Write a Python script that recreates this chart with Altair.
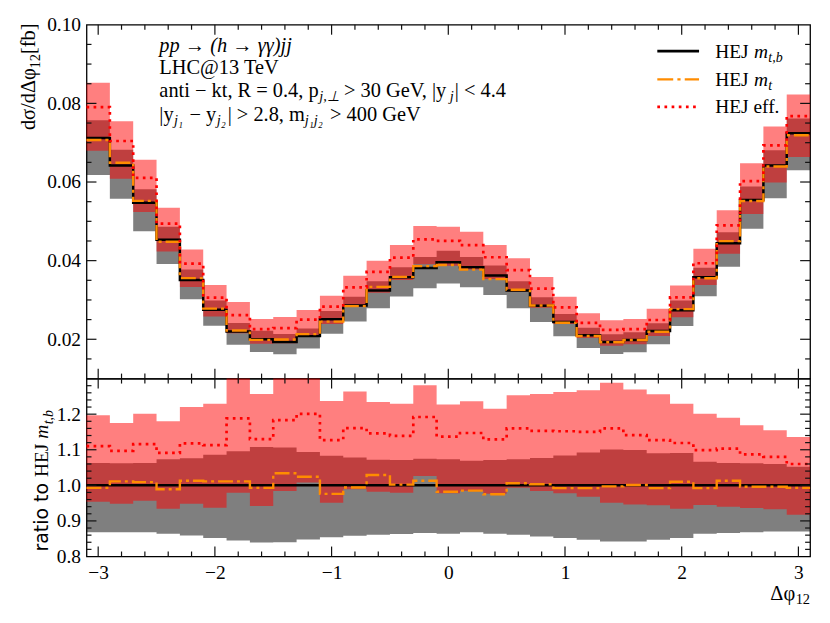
import altair as alt
import pandas as pd

# ---------------- data ----------------
edges = [-3.1, -2.9, -2.7, -2.5, -2.3, -2.1, -1.9, -1.7, -1.5, -1.3, -1.1, -0.9,
         -0.7, -0.5, -0.3, -0.1, 0.1, 0.3, 0.5, 0.7, 0.9, 1.1, 1.3, 1.5, 1.7,
         1.9, 2.1, 2.3, 2.5, 2.7, 2.9, 3.1]

# HEJ m_{t,b} central value [fb]
hej_mtb = [0.0712, 0.0642, 0.0547, 0.0453, 0.0351, 0.0275, 0.0220, 0.0200,
           0.0193, 0.0208, 0.0251, 0.0286, 0.0324, 0.0358, 0.0381, 0.0396,
           0.0383, 0.0362, 0.0324, 0.0285, 0.0244, 0.0210, 0.0193, 0.0198,
           0.0221, 0.0274, 0.0358, 0.0444, 0.0554, 0.0642, 0.0724]

# ratios to HEJ m_{t,b}
ratio_mt = [0.993, 1.011, 1.009, 0.989, 1.013, 1.011, 1.011, 0.993, 1.034, 1.024,
            0.976, 0.994, 1.029, 1.002, 1.013, 0.982, 0.985, 0.975, 1.006, 1.003,
            0.992, 0.992, 0.997, 1.001, 0.992, 1.010, 0.992, 1.013, 0.996, 0.996,
            0.993]
ratio_eff = [1.110, 1.097, 1.116, 1.091, 1.118, 1.113, 1.188, 1.130, 1.183, 1.201,
             1.127, 1.161, 1.146, 1.139, 1.192, 1.137, 1.147, 1.129, 1.160, 1.153,
             1.152, 1.150, 1.160, 1.141, 1.127, 1.119, 1.099, 1.103, 1.087, 1.080,
             1.060]
mtb_lo = [0.868, 0.868, 0.868, 0.864, 0.859, 0.852, 0.845, 0.839, 0.840, 0.848,
          0.854, 0.858, 0.861, 0.863, 0.866, 0.864, 0.868, 0.864, 0.861, 0.856,
          0.852, 0.847, 0.842, 0.842, 0.847, 0.852, 0.864, 0.866, 0.868, 0.870,
          0.870]
mtb_hi = [1.063, 1.062, 1.063, 1.073, 1.076, 1.086, 1.096, 1.108, 1.106, 1.094,
          1.083, 1.078, 1.072, 1.071, 1.075, 1.073, 1.069, 1.071, 1.073, 1.077,
          1.084, 1.092, 1.101, 1.099, 1.090, 1.091, 1.066, 1.063, 1.062, 1.060,
          1.052]
eff_lo = [0.954, 0.948, 0.957, 0.934, 0.948, 0.937, 0.979, 0.942, 0.984, 1.008,
          0.951, 0.989, 0.982, 0.979, 1.026, 0.978, 0.985, 0.976, 0.993, 0.984,
          0.978, 0.968, 0.951, 0.946, 0.944, 0.934, 0.945, 0.940, 0.936, 0.933,
          0.917]
eff_hi = [1.197, 1.175, 1.201, 1.180, 1.220, 1.229, 1.340, 1.257, 1.330, 1.320,
          1.237, 1.264, 1.234, 1.229, 1.281, 1.227, 1.236, 1.215, 1.253, 1.257,
          1.262, 1.267, 1.288, 1.269, 1.256, 1.229, 1.201, 1.190, 1.169, 1.155,
          1.136]

x_major = [-3, -2, -1, 0, 1, 2, 3]
x_minor = [-2.8, -2.6, -2.4, -2.2, -1.8, -1.6, -1.4, -1.2, -0.8, -0.6, -0.4, -0.2,
           0.2, 0.4, 0.6, 0.8, 1.2, 1.4, 1.6, 1.8, 2.2, 2.4, 2.6, 2.8]
y_top_labels = [0.02, 0.04, 0.06, 0.08, 0.10]
y_top_major = [0.02, 0.04, 0.06, 0.08]
y_top_minor = [0.015, 0.025, 0.03, 0.035, 0.045, 0.05, 0.055, 0.065, 0.07,
               0.075, 0.085, 0.09, 0.095]
y_bot_labels = [0.8, 0.9, 1.0, 1.1, 1.2]
y_bot_major = [0.9, 1.0, 1.1, 1.2]
y_bot_minor = [0.82, 0.84, 0.86, 0.88, 0.92, 0.94, 0.96, 0.98, 1.02, 1.04, 1.06,
               1.08, 1.12, 1.14, 1.16, 1.18, 1.22, 1.24, 1.26, 1.28]

# ---------------- tables ----------------
def step(v):
    v = list(v)
    return v + [v[-1]]

def mul(a, b):
    return [p * q for p, q in zip(a, b)]

top_df = pd.DataFrame({
    "x": edges,
    "c": step(hej_mtb),
    "mt": step(mul(hej_mtb, ratio_mt)),
    "eff": step(mul(hej_mtb, ratio_eff)),
    "g_lo": step(mul(hej_mtb, mtb_lo)),
    "g_hi": step(mul(hej_mtb, mtb_hi)),
    "r_lo": step(mul(hej_mtb, eff_lo)),
    "r_hi": step(mul(hej_mtb, eff_hi)),
})
bot_df = pd.DataFrame({
    "x": edges,
    "c": step([c / c for c in hej_mtb]),
    "mt": step(ratio_mt),
    "eff": step(ratio_eff),
    "g_lo": step(mtb_lo),
    "g_hi": step(mtb_hi),
    "r_lo": step(eff_lo),
    "r_hi": step(eff_hi),
})

# ---------------- style ----------------
W, HT, HB = 728, 356, 179
SERIF = "Liberation Serif"
SANS = "DejaVu Sans"
FS = 20.5
SUB = 14.5
RED = "#ff0000"
ORANGE = "#ff8c00"
TICK = "#111111"

xs = alt.Scale(domain=[-3.1, 3.1], nice=False, zero=False)
ys_top = alt.Scale(domain=[0.01, 0.10], nice=False, zero=False)
ys_bot = alt.Scale(domain=[0.8, 1.3], nice=False, zero=False, clamp=True)

x_axis = alt.Axis(values=x_major, format="d", ticks=False, tickSize=0, domain=False,
                  grid=False, labelFont=SERIF, labelFontSize=19.5, labelColor="black",
                  labelPadding=7, title=None)
y_axis_top = alt.Axis(values=y_top_labels, format=".2f", ticks=False, tickSize=0,
                      domain=False, grid=False, labelFont=SERIF, labelFontSize=19.5,
                      labelColor="black", labelPadding=6, title=None)
y_axis_bot = alt.Axis(values=y_bot_labels, format=".1f", ticks=False, tickSize=0,
                      domain=False, grid=False, labelFont=SERIF, labelFontSize=19.5,
                      labelColor="black", labelPadding=6, title=None)

DUMMY = pd.DataFrame({"a": [0]})


def txt(s, x, y, size=FS, style="normal", font=SERIF, angle=None, align="left",
        baseline="alphabetic"):
    kw = dict(text=s, font=font, fontSize=size, fontStyle=style, align=align,
              baseline=baseline, color="black")
    if angle is not None:
        kw["angle"] = angle
    return alt.Chart(DUMMY).mark_text(**kw).encode(x=alt.value(x), y=alt.value(y))


def curves(df, ys, xaxis, yaxis):
    X = alt.X("x:Q", scale=xs, axis=xaxis)
    gray = alt.Chart(df).mark_area(interpolate="step-after", color="black",
                                   opacity=0.5).encode(
        x=X, y=alt.Y("g_lo:Q", scale=ys, axis=yaxis), y2="g_hi:Q")
    red = alt.Chart(df).mark_area(interpolate="step-after", color=RED,
                                  opacity=0.5).encode(
        x=X, y=alt.Y("r_lo:Q", scale=ys, axis=yaxis), y2="r_hi:Q")
    black = alt.Chart(df).mark_line(interpolate="step-after", color="black",
                                    strokeWidth=2.5).encode(
        x=X, y=alt.Y("c:Q", scale=ys, axis=yaxis))
    orange = alt.Chart(df).mark_line(interpolate="step-after", color=ORANGE,
                                     strokeWidth=2.4, strokeDash=[15, 4, 3, 4]).encode(
        x=X, y=alt.Y("mt:Q", scale=ys, axis=yaxis))
    dotted = alt.Chart(df).mark_line(interpolate="step-after", color=RED,
                                     strokeWidth=2.7, strokeDash=[2.7, 4.4]).encode(
        x=X, y=alt.Y("eff:Q", scale=ys, axis=yaxis))
    return [gray, red, black, orange, dotted]


def xticks(xaxis, H):
    out = []
    for vals, length in ((x_major, 10), (x_minor, 5)):
        d = pd.DataFrame({"t": vals})
        for y0, y1 in ((H, H - length), (0, length)):
            out.append(alt.Chart(d).mark_rule(color=TICK, strokeWidth=1.2).encode(
                x=alt.X("t:Q", scale=xs, axis=xaxis), y=alt.value(y0), y2=alt.value(y1)))
    return out


def yticks(ys, yaxis, major, minor):
    out = []
    for vals, length in ((major, 10), (minor, 5)):
        d = pd.DataFrame({"t": vals})
        for x0, x1 in ((0, length), (W, W - length)):
            out.append(alt.Chart(d).mark_rule(color=TICK, strokeWidth=1.2).encode(
                y=alt.Y("t:Q", scale=ys, axis=yaxis), x=alt.value(x0), x2=alt.value(x1)))
    return out


def legend_line(color, y, dash=None, width=2.5):
    kw = dict(color=color, strokeWidth=width)
    if dash:
        kw["strokeDash"] = dash
    return alt.Chart(DUMMY).mark_rule(**kw).encode(
        x=alt.value(574.3), x2=alt.value(616.3), y=alt.value(y))


# ---------------- top panel ----------------
LS = 19.5
top_text = [
    # invisible anchor fixing the chart's top-left extent
    alt.Chart(DUMMY).mark_rule(opacity=0, strokeWidth=1).encode(
        x=alt.value(-78), y=alt.value(-10), y2=alt.value(0)),
    # y title  dσ/dΔφ_12 [fb]
    txt("dσ/dΔφ", -51.7, 106.0, size=20.5, angle=270),
    txt("12", -47.0, 44.0, size=14.5, angle=270),
    txt("[fb]", -51.7, 29.5, size=20.5, angle=270),
    # annotation block
    txt("pp → (h → γγ)jj", 73.3, 27.3, style="italic"),
    txt("LHC@13 TeV", 73.3, 49.3),
    txt("anti − kt, R = 0.4, p", 73.3, 72.8),
    txt("j,⊥", 234.2, 76.8, size=SUB, style="italic"),
    txt("> 30 GeV, |y", 259.0, 72.8),
    txt("j", 365.5, 76.8, size=SUB, style="italic"),
    txt("| < 4.4", 370.5, 72.8),
    txt("|y", 73.3, 96.5),
    txt("j₁", 88.0, 100.5, size=SUB, style="italic"),
    txt("− y", 103.5, 96.5),
    txt("j₂", 131.0, 100.5, size=SUB, style="italic"),
    txt("| > 2.8, m", 142.0, 96.5),
    txt("j₁j₂", 219.5, 100.5, size=SUB, style="italic"),
    txt("> 400 GeV", 245.0, 96.5),
    # legend
    legend_line("black", 26.6, width=2.7),
    legend_line(ORANGE, 55.0, dash=[16, 4.2, 3.2, 4.2], width=2.4),
    legend_line(RED, 82.6, dash=[2.7, 4.5], width=2.7),
    txt("HEJ", 632.6, 33.0, size=LS),
    txt("m", 671.5, 33.0, size=LS, style="italic"),
    txt("t,b", 686.0, 37.0, size=14, style="italic"),
    txt("HEJ", 632.6, 61.3, size=LS),
    txt("m", 671.5, 61.3, size=LS, style="italic"),
    txt("t", 686.0, 65.3, size=14, style="italic"),
    txt("HEJ eff.", 632.6, 89.0, size=LS),
]

top = alt.layer(*(curves(top_df, ys_top, None, y_axis_top)
                  + xticks(None, HT)
                  + yticks(ys_top, y_axis_top, y_top_major, y_top_minor)
                  + top_text)).properties(width=W, height=HT)

# ---------------- ratio panel ----------------
bot_text = [
    alt.Chart(DUMMY).mark_rule(opacity=0, strokeWidth=1).encode(
        x=alt.value(-78), y=alt.value(0), y2=alt.value(10)),
    txt("ratio to", -38.4, 174.0, size=19, font=SANS, angle=270),
    txt("HEJ", -38.4, 99.0, size=19.5, angle=270),
    txt("m", -38.4, 60.5, size=19.5, style="italic", angle=270),
    txt("t,b", -33.4, 46.0, size=14, style="italic", angle=270),
    txt("Δφ", 713.0, 222.7, size=20.5, align="right"),
    txt("12", 728.0, 226.7, size=14.5, align="right"),
]

bottom = alt.layer(*(curves(bot_df, ys_bot, x_axis, y_axis_bot)
                     + xticks(x_axis, HB)
                     + yticks(ys_bot, y_axis_bot, y_bot_major, y_bot_minor)
                     + bot_text)).properties(width=W, height=HB)

chart = (
    alt.vconcat(top, bottom, spacing=0, bounds="flush")
    .resolve_scale(x="independent", y="independent")
    .properties(padding={"left": 0, "top": 4, "right": 5, "bottom": 5})
    .configure_view(stroke="black", strokeWidth=1.3)
    .configure_axis(grid=False)
)

chart.save("out.html", embed_options={"renderer": "svg", "actions": False})
